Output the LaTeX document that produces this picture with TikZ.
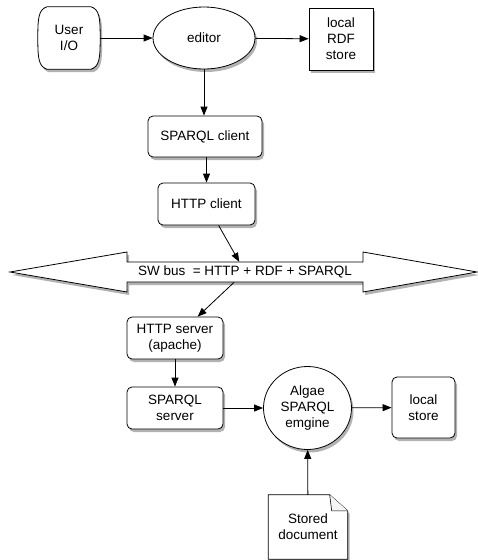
\documentclass[tikz,border=0pt]{standalone}
\usepackage{fontspec}
\setmainfont{Liberation Sans}
\usetikzlibrary{arrows.meta,shapes.geometric,shadows,calc,backgrounds}
\begin{document}
\begin{tikzpicture}[x=1pt,y=-1pt,
  every node/.style={font=\fontsize{13.5}{16}\selectfont, align=center, inner sep=0pt},
  shadowed/.style={drop shadow={shadow xshift=2pt, shadow yshift=-3pt, opacity=0.3, fill=black}},
  outline/.style={draw, fill=white, line width=0.8pt, shadowed},
  box/.style={outline, rounded corners=5pt},
  conn/.style={-{Triangle[length=9pt,width=7pt]}, line width=0.8pt},
]
\useasboundingbox (0,0) rectangle (477,560);

% top row
\node[minimum width=62pt, minimum height=62pt] (user) at (69,38) {User\\I/O};
\node[outline, ellipse, minimum width=102pt, minimum height=62pt] (editor) at (204,38) {editor};
\node[outline, rectangle, minimum width=64pt, minimum height=62pt] (rdf) at (341,39) {local\\RDF\\store};

\begin{scope}[on background layer]
  \path[outline, line join=round]
    ($(user.north west)+(9,0)$) -- ($(user.north east)+(-9,0)$)
    .. controls ($(user.north east)+(-1,3)$) and ($(user.north east)+(0,10)$) .. ($(user.east)+(0,0)$)
    .. controls ($(user.south east)+(0,-10)$) and ($(user.south east)+(-1,-3)$) .. ($(user.south east)+(-9,0)$)
    -- ($(user.south west)+(9,0)$)
    .. controls ($(user.south west)+(1,-3)$) and ($(user.south west)+(0,-10)$) .. (user.west)
    .. controls ($(user.north west)+(0,10)$) and ($(user.north west)+(1,3)$) .. ($(user.north west)+(9,0)$) -- cycle;
\end{scope}

\node[box, minimum width=114pt, minimum height=41pt] (sparqlc) at (205,136.5) {SPARQL client};
\node[box, minimum width=97pt, minimum height=42pt] (httpc) at (206.5,204) {HTTP client};

% bus
\coordinate (ltip) at (10,272);
\coordinate (rtip) at (477,272);
\path[outline, line join=miter]
  (ltip) -- (127,252) -- (127,262) -- (363,262) -- (363,252) -- (rtip)
  -- (363,292) -- (363,282) -- (127,282) -- (127,292) -- cycle;
\node[minimum width=236pt, minimum height=20pt] (bus) at (245,272) {SW bus\ \ = HTTP + RDF + SPARQL};

\node[box, minimum width=96pt, minimum height=42pt] (https) at (175,338) {HTTP server\\(apache)};
\node[box, minimum width=96pt, minimum height=42pt] (sparqls) at (175,408) {SPARQL\\server};
\node[outline, ellipse, minimum width=88pt, minimum height=83pt] (algae) at (307.5,408) {Algae\\SPARQL\\emgine};
\node[box, minimum width=63pt, minimum height=61pt] (store) at (423.5,407.5) {local\\store};

\node[minimum width=79pt, minimum height=64pt] (doc) at (308,527) {Stored\\document};
\begin{scope}[on background layer]
  \path[outline, line join=miter]
    (doc.north west) -- ($(doc.north east)+(-18,0)$) -- ($(doc.north east)+(0,16)$)
    -- (doc.south east) -- (doc.south west) -- cycle;
  \draw[line width=0.6pt, fill=gray!8]
    ($(doc.north east)+(-18,0)$) -- ($(doc.north east)+(-16,16)$) -- ($(doc.north east)+(0,16)$);
\end{scope}

% connectors
\draw[conn] (user) -- (editor);
\draw[conn] (editor) -- (rdf);
\draw[conn] (editor.south) -- (editor.south |- sparqlc.north);
\draw[conn] (sparqlc.south -| httpc.north) -- (httpc.north);
\draw[conn] (httpc) -- (bus);
\draw[conn] (bus) -- (https);
\draw[conn] (https) -- (sparqls);
\draw[conn] (sparqls) -- (algae);
\draw[conn] (algae) -- (store);
\draw[conn] (doc) -- (algae);
\end{tikzpicture}
\end{document}
